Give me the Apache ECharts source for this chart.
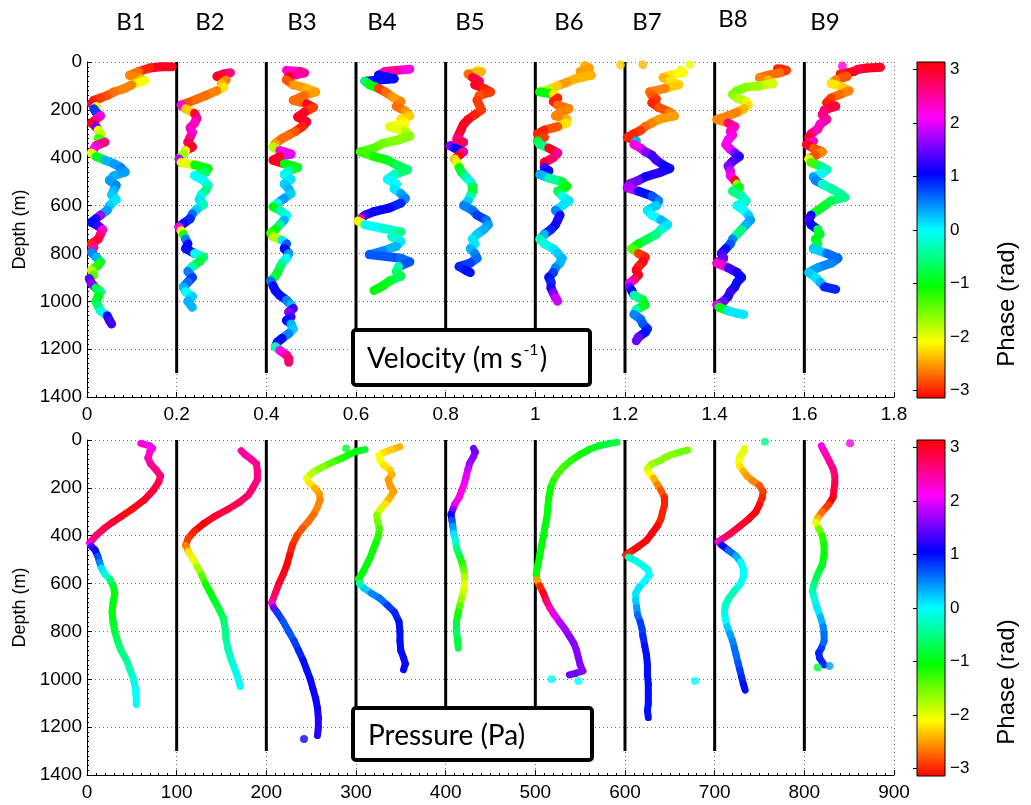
<!DOCTYPE html>
<html><head><meta charset="utf-8">
<script src="https://cdn.jsdelivr.net/npm/echarts@6/dist/echarts.min.js"></script>
<style>html,body{margin:0;padding:0;background:#fff}#c{width:1031px;height:805px}</style>
</head><body><div id="c"></div><script>
// ---------- DATA ----------
// each profile point: [depth (m), value, phase (rad)]
const profileNames = ['B1','B2','B3','B4','B5','B6','B7','B8','B9'];
const velOffsets = [0,0.2,0.4,0.6,0.8,1.0,1.2,1.4,1.6];
const presOffsets = [0,100,200,300,400,500,600,700,800];
const separatorDepth = 1300;

const velB1 = [[20,0.19,3.0],[20,0.165,3.0],[25,0.14,-3.0],[40,0.115,-2.7],[55,0.095,-2.6],[70,0.12,-2.4],[78,0.128,-2.1],[95,0.10,-2.6],[110,0.085,-2.6],[125,0.06,-2.7],[140,0.045,-2.8],[150,0.03,-2.9],[160,0.015,-3.0],[175,0.01,2.9],[185,0.02,-2.0],[195,0.015,0.8],[210,0.02,0.8],[225,0.03,2.2],[240,0.02,2.5],[255,0.01,3.0],[270,0.02,1.5],[285,0.025,-2.0],[300,0.03,-1.8],[320,0.025,-1.3],[335,0.04,2.6],[350,0.02,2.3],[365,0.015,2.1],[380,0.01,-2.0],[395,0.02,-0.9],[410,0.04,0.3],[425,0.06,0.4],[440,0.075,0.5],[460,0.085,0.4],[475,0.06,0.3],[495,0.05,0.4],[515,0.065,0.5],[535,0.06,0.3],[555,0.055,0.2],[575,0.065,0.1],[600,0.05,0.2],[620,0.045,0.4],[640,0.03,1.7],[655,0.02,1.2],[670,0.01,1.0],[685,0.025,1.3],[700,0.035,2.2],[720,0.03,2.6],[740,0.025,2.9],[760,0.01,-3.0],[775,0.015,2.4],[795,0.01,0.5],[815,0.02,0.3],[835,0.03,-0.9],[850,0.025,-1.2],[870,0.01,-1.8],[890,0.015,-1.4],[905,0.005,1.4],[925,0.01,1.6],[945,0.02,-0.8],[960,0.03,-0.5],[980,0.025,-1.0],[1000,0.02,-0.8],[1020,0.025,-0.6],[1040,0.03,-0.1],[1060,0.045,1.1],[1080,0.05,1.3],[1095,0.055,1.2]];
const velB2 = [[45,0.12,2.6],[50,0.105,2.8],[60,0.09,3.0],[75,0.11,-2.6],[90,0.1,-2.4],[105,0.105,-2.2],[120,0.09,-2.6],[140,0.065,-2.7],[155,0.045,-2.7],[170,0.025,-2.8],[180,0.01,2.2],[195,0.02,-2.3],[215,0.04,2.9],[235,0.045,2.6],[255,0.04,2.3],[275,0.03,2.4],[295,0.035,2.2],[315,0.03,2.5],[335,0.025,2.8],[355,0.035,3.0],[370,0.02,-2.0],[385,0.015,-1.7],[405,0.005,1.8],[420,0.01,-2.0],[430,0.04,-1.0],[445,0.07,-1.0],[460,0.065,-0.6],[475,0.04,0.0],[495,0.06,0.0],[515,0.07,-0.3],[535,0.065,-0.5],[555,0.055,-0.2],[575,0.05,0.1],[595,0.06,-0.3],[615,0.045,0.2],[635,0.035,0.6],[655,0.03,0.9],[675,0.015,1.0],[690,0.005,2.2],[705,0.01,-2.0],[720,0.015,-1.2],[740,0.02,0.5],[760,0.025,1.0],[780,0.02,1.0],[800,0.04,0.0],[815,0.06,-0.6],[835,0.05,-0.8],[855,0.035,-0.3],[875,0.025,0.5],[900,0.035,0.8],[920,0.025,0.6],[940,0.015,0.3],[960,0.02,0.0],[980,0.035,0.2],[1000,0.025,0.3],[1025,0.035,0.7]];
const velB3 = [[35,0.045,2.3],[40,0.075,2.6],[45,0.085,2.5],[60,0.05,3.0],[75,0.045,-2.8],[95,0.06,-2.5],[110,0.09,-2.4],[125,0.11,-2.5],[140,0.085,-2.7],[160,0.06,-2.7],[175,0.09,3.0],[190,0.105,-2.9],[210,0.085,3.0],[230,0.07,3.0],[250,0.09,2.9],[270,0.08,-3.0],[290,0.065,-2.8],[305,0.05,-2.7],[320,0.035,-2.7],[340,0.02,-2.5],[355,0.015,-1.8],[370,0.03,2.2],[385,0.055,2.0],[395,0.03,3.0],[410,0.015,3.0],[425,0.04,-1.0],[440,0.07,-0.9],[455,0.05,-0.3],[470,0.04,0.0],[490,0.055,0.1],[510,0.04,0.2],[530,0.05,0.3],[550,0.055,0.2],[570,0.04,0.4],[590,0.025,0.0],[605,0.015,-1.0],[620,0.03,-0.3],[640,0.045,0.0],[660,0.04,0.3],[680,0.03,-0.5],[700,0.02,-1.0],[715,0.01,-1.3],[730,0.015,-1.8],[745,0.035,0.1],[760,0.045,0.7],[780,0.04,1.0],[800,0.05,0.4],[820,0.045,0.0],[840,0.035,-0.4],[860,0.03,-0.6],[880,0.025,-0.9],[895,0.02,-0.8],[915,0.01,0.6],[935,0.015,1.0],[955,0.02,1.1],[975,0.03,1.0],[995,0.045,0.5],[1015,0.055,0.3],[1030,0.06,1.3],[1045,0.05,1.6],[1065,0.055,1.3],[1080,0.045,1.0],[1095,0.055,0.3],[1115,0.06,0.2],[1135,0.05,0.5],[1155,0.035,1.0],[1170,0.025,1.0],[1190,0.02,-0.3],[1205,0.03,2.2],[1225,0.045,2.5],[1240,0.05,2.7],[1255,0.05,3.0]];
const velB4 = [[30,0.12,2.2],[35,0.09,2.5],[40,0.065,2.4],[55,0.05,1.0],[70,0.085,1.0],[80,0.02,-0.6],[95,0.03,-1.0],[110,0.05,-2.9],[125,0.065,-2.7],[145,0.08,-2.5],[165,0.1,-2.6],[185,0.09,-2.7],[205,0.11,-2.5],[225,0.12,-2.3],[240,0.1,-2.2],[255,0.11,-2.1],[270,0.075,-2.0],[290,0.11,-1.8],[310,0.12,-1.6],[325,0.095,-1.6],[340,0.06,-1.5],[360,0.04,-1.4],[375,0.01,-1.3],[395,0.04,-1.1],[410,0.07,-0.9],[430,0.09,-0.7],[450,0.115,-0.6],[470,0.085,-0.2],[490,0.07,0.0],[510,0.09,0.0],[530,0.085,0.1],[550,0.1,0.4],[570,0.11,0.5],[590,0.1,0.9],[610,0.075,1.1],[625,0.04,1.1],[640,0.02,1.3],[655,0.01,2.5],[665,0.005,-2.0],[680,0.02,0.0],[695,0.06,-0.2],[710,0.1,-0.5],[730,0.08,-0.2],[750,0.1,0.1],[770,0.09,0.3],[790,0.06,0.5],[805,0.03,0.7],[820,0.1,0.6],[835,0.12,0.7],[855,0.095,-0.3],[875,0.09,-0.6],[895,0.1,-0.7],[915,0.075,-0.9],[935,0.06,-1.0],[955,0.04,-0.2]];
const velB5 = [[35,0.07,-2.2],[40,0.08,-2.4],[50,0.05,-2.7],[65,0.06,2.9],[80,0.075,2.8],[95,0.065,3.0],[110,0.085,-3.0],[125,0.1,-2.9],[140,0.075,-2.8],[160,0.07,-2.9],[180,0.075,-2.9],[200,0.08,-2.9],[220,0.065,-3.0],[240,0.05,3.0],[260,0.04,3.0],[280,0.035,3.0],[300,0.03,2.9],[320,0.025,2.6],[335,0.04,2.8],[350,0.01,1.6],[360,0.02,1.0],[375,0.04,2.5],[390,0.03,3.0],[405,0.02,-2.3],[420,0.025,-2.0],[440,0.03,-1.0],[460,0.035,-0.8],[480,0.045,-0.3],[500,0.055,0.0],[520,0.06,-0.8],[540,0.06,-0.8],[560,0.055,-0.3],[580,0.05,0.2],[600,0.04,0.5],[620,0.06,0.6],[640,0.07,0.8],[660,0.09,0.6],[680,0.095,0.4],[700,0.085,0.3],[720,0.07,0.2],[740,0.06,0.1],[760,0.065,0.1],[780,0.055,0.3],[800,0.065,0.5],[820,0.07,0.6],[840,0.055,0.8],[855,0.03,0.9],[870,0.045,1.0],[880,0.055,1.2]];
const velB6 = [[15,0.11,-2.4],[25,0.12,-2.5],[40,0.1,-2.5],[55,0.125,-2.4],[70,0.09,-2.4],[85,0.07,-2.5],[100,0.05,-2.3],[115,0.03,-1.8],[125,0.01,-1.0],[135,0.04,-2.2],[150,0.05,-3.0],[165,0.04,-3.0],[180,0.05,-2.7],[195,0.075,-2.6],[210,0.06,-2.6],[225,0.045,-2.6],[240,0.07,-2.4],[255,0.07,-2.2],[270,0.05,-2.8],[285,0.02,-3.0],[300,0.005,-3.0],[315,0.02,-2.9],[330,0.005,-0.9],[345,0.01,-0.5],[360,0.03,3.0],[380,0.05,2.5],[400,0.04,2.7],[420,0.02,3.0],[440,0.02,1.3],[455,0.03,1.0],[470,0.01,0.3],[485,0.03,-0.4],[500,0.06,-0.8],[520,0.07,-1.0],[540,0.05,-0.7],[560,0.06,-0.1],[580,0.075,0.1],[600,0.06,0.1],[620,0.045,0.5],[640,0.055,1.0],[660,0.05,1.2],[680,0.045,1.1],[700,0.035,0.9],[720,0.02,0.3],[740,0.01,-0.3],[760,0.02,-0.1],[780,0.04,0.1],[800,0.05,0.2],[820,0.06,0.3],[840,0.055,0.3],[860,0.045,0.5],[880,0.04,0.8],[900,0.03,1.0],[920,0.035,0.9],[945,0.035,1.2],[965,0.04,1.6],[985,0.045,1.9],[1000,0.05,2.2]];
const velB7 = [[35,0.125,-2.0],[45,0.13,-2.1],[55,0.1,-2.2],[65,0.085,-2.4],[80,0.1,-2.2],[95,0.12,-2.3],[110,0.09,-2.6],[125,0.055,-2.7],[140,0.06,-2.8],[155,0.07,-2.9],[170,0.06,-3.0],[190,0.075,-2.8],[210,0.1,-2.6],[225,0.11,-2.5],[240,0.075,-2.5],[255,0.06,-2.6],[270,0.045,-2.7],[285,0.035,-2.9],[300,0.02,-3.0],[315,0.005,-3.0],[330,0.025,0.3],[345,0.02,2.2],[360,0.035,2.0],[375,0.045,1.6],[390,0.06,1.3],[410,0.07,1.3],[430,0.085,1.1],[445,0.1,1.1],[460,0.08,1.2],[480,0.045,1.1],[495,0.03,1.5],[510,0.01,1.6],[525,0.005,1.8],[540,0.03,1.0],[560,0.06,0.7],[580,0.075,0.5],[600,0.07,0.2],[620,0.05,0.1],[640,0.06,0.0],[660,0.08,0.3],[680,0.095,0.1],[700,0.08,-0.2],[720,0.07,-0.5],[740,0.05,-0.7],[760,0.03,-1.0],[780,0.015,-1.4],[800,0.03,-2.9],[815,0.045,-3.0],[835,0.04,3.0],[855,0.03,-3.0],[870,0.025,3.0],[890,0.03,3.0],[910,0.02,2.6],[925,0.01,2.0],[940,0.01,1.5],[955,0.015,1.0],[975,0.02,-0.4],[995,0.04,-0.8],[1015,0.045,-0.9],[1035,0.025,-0.3],[1055,0.02,0.5],[1075,0.035,0.6],[1095,0.04,0.7],[1115,0.05,0.9],[1130,0.045,1.0],[1150,0.03,1.5],[1165,0.025,1.7]];
const velB8 = [[28,0.14,-3.0],[30,0.15,-3.0],[35,0.16,-2.9],[45,0.145,-2.7],[55,0.12,-2.7],[65,0.1,-2.6],[75,0.12,-2.4],[90,0.13,-1.9],[100,0.1,-1.7],[105,0.07,-1.6],[120,0.05,-1.5],[135,0.04,-1.6],[150,0.05,-1.8],[165,0.07,-2.0],[180,0.075,-2.2],[195,0.065,-2.4],[210,0.05,-2.6],[225,0.03,-2.6],[240,0.005,-2.6],[255,0.03,2.6],[270,0.045,2.4],[290,0.035,2.3],[305,0.04,2.2],[325,0.03,2.1],[345,0.025,2.2],[365,0.035,2.0],[380,0.045,1.5],[395,0.055,1.2],[415,0.04,1.4],[435,0.03,1.6],[455,0.035,1.9],[475,0.035,2.2],[495,0.045,3.0],[510,0.05,-1.6],[525,0.055,-1.0],[540,0.04,-0.5],[560,0.06,-0.3],[580,0.07,-0.2],[600,0.05,0.0],[620,0.065,0.0],[640,0.075,0.2],[660,0.08,0.4],[680,0.07,0.3],[700,0.06,-0.5],[720,0.05,-0.5],[740,0.04,0.5],[760,0.035,0.7],[780,0.025,1.0],[800,0.015,1.3],[820,0.02,1.5],[840,0.005,2.3],[860,0.03,1.3],[880,0.05,1.1],[900,0.06,1.1],[920,0.05,1.0],[940,0.045,1.1],[960,0.035,1.3],[980,0.03,1.2],[1000,0.02,1.5],[1015,0.005,2.0],[1025,0.01,-1.0],[1040,0.03,0.1],[1050,0.05,0.1],[1055,0.065,0.1]];
const velB9 = [[22,0.17,3.0],[25,0.14,3.0],[30,0.12,2.8],[40,0.11,3.0],[50,0.08,-3.0],[60,0.095,-2.8],[75,0.07,-2.6],[90,0.06,-2.2],[105,0.085,-2.3],[120,0.1,-2.6],[135,0.08,-2.7],[150,0.06,-2.9],[170,0.05,-3.0],[185,0.07,2.9],[200,0.045,2.7],[220,0.04,2.6],[240,0.05,2.5],[260,0.035,2.3],[280,0.03,2.4],[300,0.015,2.6],[315,0.01,3.0],[330,0.02,2.3],[345,0.005,3.0],[360,0.02,-2.8],[375,0.04,-2.6],[390,0.025,-2.8],[405,0.01,-2.0],[420,0.015,-1.3],[435,0.035,-0.5],[450,0.05,-0.3],[465,0.04,0.0],[480,0.02,0.4],[495,0.025,0.5],[510,0.04,-0.2],[530,0.06,-0.4],[550,0.08,-0.4],[565,0.09,-0.5],[580,0.06,-0.7],[600,0.045,-0.9],[620,0.03,-0.9],[640,0.015,1.1],[660,0.01,1.3],[680,0.015,1.0],[700,0.03,-0.8],[720,0.035,-0.9],[740,0.025,-1.0],[760,0.03,-0.8],[780,0.02,0.2],[800,0.05,0.6],[820,0.075,0.6],[840,0.06,0.5],[860,0.03,0.4],[880,0.01,0.2],[900,0.025,0.1],[920,0.035,0.3],[940,0.045,0.9],[950,0.07,-2.8]];
// isolated velocity dots: [profile index, depth, value, phase]
const velStrays = [[5,12,0.19,-2.3],[6,11,0.04,-2.4],[6,11,0.145,-2.0],[8,17,0.085,2.3]];

const presB1 = [[14,60,2.2],[25,70,2.2],[35,73,2.2],[50,70,2.3],[75,68,2.4],[100,71,2.5],[125,77,2.6],[150,82,2.7],[175,80,2.8],[210,74,2.9],[250,64,3.0],[290,50,-3.1],[320,38,3.0],[345,28,2.9],[370,19,2.8],[400,10,2.7],[430,3,2.2],[445,5,1.3],[460,9,1.0],[485,12,0.7],[510,14,0.5],[535,16,0.1],[560,20,-0.2],[585,26,-0.6],[610,29,-0.9],[640,31,-1.0],[680,29,-1.0],[720,28,-1.0],[760,29,-0.9],[800,31,-0.8],[840,34,-0.6],[880,38,-0.5],[920,44,-0.4],[960,48,-0.3],[1000,52,-0.1],[1040,54,0.0],[1080,55,0.0],[1105,55,0.0]];
const presB2 = [[45,72,2.5],[60,76,2.5],[80,83,2.5],[100,89,2.6],[130,90,2.6],[165,90,2.6],[200,85,2.7],[230,80,2.7],[260,70,2.8],[290,57,2.9],[320,42,3.0],[350,30,3.1],[380,20,-3.0],[410,13,-2.9],[440,10,-2.6],[465,13,-2.2],[495,18,-2.0],[530,23,-1.7],[565,28,-1.4],[600,32,-1.1],[635,37,-1.0],[670,42,-0.9],[705,47,-0.8],[745,52,-0.6],[785,54,-0.5],[830,55,-0.4],[870,57,-0.3],[910,60,-0.2],[950,64,-0.1],[990,68,0.0],[1030,71,0.0]];
const presB3 = [[40,110,-0.9],[48,100,-1.0],[60,93,-1.1],[75,85,-1.2],[90,75,-1.4],[110,64,-1.6],[135,52,-1.8],[160,45,-2.0],[180,48,-2.2],[200,54,-2.4],[225,59,-2.5],[250,60,-2.6],[280,57,-2.6],[310,53,-2.7],[340,47,-2.7],[370,40,-2.8],[400,34,-2.9],[440,29,-3.0],[480,26,-3.1],[520,23,3.1],[560,19,3.0],[600,14,2.9],[640,10,2.7],[680,6,2.3],[700,8,1.5],[720,12,0.8],[760,19,0.7],[800,25,0.7],[840,31,0.8],[880,36,0.9],[920,41,1.0],[960,45,1.0],[1000,49,1.1],[1040,52,1.1],[1080,55,1.1],[1120,57,1.1],[1160,58,1.2],[1200,58,1.2],[1235,57,1.2]];
const presB4 = [[28,49,-2.4],[40,40,-2.3],[52,31,-2.2],[65,26,-2.1],[85,27,-2.1],[105,31,-2.2],[125,38,-2.3],[145,40,-2.4],[165,36,-2.5],[190,38,-2.5],[215,42,-2.5],[240,38,-2.4],[265,33,-2.2],[290,27,-1.9],[315,23,-1.6],[340,24,-1.5],[370,26,-1.3],[400,25,-1.2],[430,22,-1.1],[460,19,-1.1],[490,16,-1.0],[520,12,-1.0],[550,8,-1.0],[580,3,-1.0],[600,4,-0.3],[620,9,0.2],[640,17,0.5],[660,26,0.6],[690,35,0.8],[720,43,0.9],[760,48,1.0],[800,49,1.0],[840,49,1.0],[880,50,1.0],[910,53,1.1],[935,55,1.1],[960,53,1.1]];
const presB5 = [[35,31,1.5],[50,33,1.5],[70,31,1.6],[95,27,1.7],[120,25,1.9],[150,23,2.0],[180,21,2.1],[210,18,2.2],[240,15,2.2],[270,10,2.0],[290,8,1.6],[310,6,1.1],[335,7,0.7],[360,8,0.4],[390,9,0.1],[420,11,-0.2],[450,12,-0.5],[480,15,-0.8],[510,18,-1.2],[540,20,-1.5],[570,21,-1.8],[600,21,-2.0],[630,20,-1.9],[660,18,-1.7],[690,16,-1.4],[720,14,-1.1],[760,12,-0.8],[800,12,-0.6],[830,13,-0.8],[870,14,-1.0]];
const presB6 = [[10,91,-0.8],[15,82,-0.8],[25,70,-0.9],[40,60,-1.0],[60,50,-1.1],[85,40,-1.2],[110,32,-1.3],[140,25,-1.3],[170,20,-1.2],[200,17,-1.1],[240,15,-1.1],[280,14,-1.0],[320,13,-1.0],[360,11,-1.0],[400,9,-1.0],[440,7,-1.0],[480,5,-1.0],[520,3,-1.0],[560,1,-1.1],[585,2,-2.5],[610,5,-3.0],[640,9,3.0],[670,12,2.7],[700,16,2.4],[730,21,2.0],[760,27,1.8],[790,33,1.7],[820,38,1.6],[850,43,1.6],[880,46,1.6],[910,48,1.6],[940,50,1.6],[965,53,1.6],[975,45,1.5],[982,38,1.4]];
const presB7 = [[42,70,-1.5],[50,62,-1.5],[60,53,-1.6],[72,45,-1.6],[85,40,-1.6],[100,30,-1.7],[120,25,-1.9],[140,27,-2.1],[160,32,-2.4],[185,36,-2.6],[210,40,-2.8],[240,44,-3.0],[270,44,-3.0],[300,42,-3.0],[330,40,-3.0],[360,36,3.1],[390,30,3.1],[420,24,3.1],[445,15,-3.1],[470,5,-3.0],[480,1,-3.0],[490,4,-0.2],[505,12,-0.1],[525,20,-0.1],[545,26,0.0],[565,27,0.0],[590,22,0.0],[615,16,0.1],[640,12,0.1],[670,12,0.2],[700,13,0.4],[730,14,0.6],[760,17,0.8],[790,19,0.8],[820,20,0.9],[860,22,1.0],[900,24,1.0],[940,25,1.0],[980,25,1.0],[1020,26,1.0],[1060,26,1.0],[1100,26,1.0],[1130,25,1.0],[1160,26,1.0]];
const presB8 = [[35,33,-2.0],[50,32,-2.0],[70,28,-2.0],[90,27,-2.1],[110,28,-2.2],[130,32,-2.4],[150,36,-2.5],[170,42,-2.6],[190,50,-2.8],[215,54,-2.9],[240,53,-3.0],[270,50,-3.1],[300,46,3.1],[330,38,3.0],[360,28,2.9],[390,18,2.8],[415,8,2.6],[425,4,2.3],[440,8,1.0],[460,15,0.6],[485,24,0.3],[510,29,0.0],[540,32,0.0],[570,32,0.0],[600,29,-0.1],[630,22,-0.3],[660,16,-0.3],[690,12,-0.2],[720,11,-0.1],[750,12,0.0],[780,14,0.2],[810,17,0.4],[840,20,0.5],[870,22,0.6],[900,24,0.6],[930,26,0.7],[960,28,0.8],[990,30,0.9],[1020,32,1.0],[1045,34,1.0]];
const presB9 = [[24,19,2.2],[40,21,2.3],[60,24,2.4],[90,28,2.5],[120,32,2.6],[150,34,2.7],[180,34,2.8],[210,33,2.9],[240,32,3.1],[270,27,-2.9],[300,20,-2.7],[325,15,-2.4],[345,13,-2.0],[370,16,-1.5],[400,20,-1.2],[440,22,-1.1],[480,22,-1.0],[520,20,-0.9],[560,15,-0.7],[600,11,-0.5],[630,9,-0.3],[660,11,-0.1],[700,14,0.1],[740,18,0.3],[780,21,0.5],[810,22,0.6],[840,22,0.6],[870,19,0.8],[890,16,0.9],[910,17,0.9],[940,22,0.8]];
// isolated pressure dots: [profile index, depth, value, phase]
const presStrays = [[2,35,89,-0.9],[2,1250,42,1.1],[5,1000,18,-0.1],[5,1007,48,0.0],[6,1007,78,0.0],[7,7,56,-0.5],[8,14,51,2.2],[8,951,15,-0.8],[8,944,28,0.4]];

const velProfiles = [velB1,velB2,velB3,velB4,velB5,velB6,velB7,velB8,velB9];
const presProfiles = [presB1,presB2,presB3,presB4,presB5,presB6,presB7,presB8,presB9];
const phaseTicks = [-3,-2,-1,0,1,2,3];

// ---------- BUILD ----------
function segData(profiles, offsets) {
  const out = [];
  profiles.forEach((prof, k) => {
    prof.forEach((pt, i) => {
      const nx = prof[i + 1] || pt;
      out.push([offsets[k] + pt[1], pt[0], pt[2], offsets[k] + nx[1], nx[0]]);
    });
  });
  return out;
}
function strayData(strays, offsets) {
  return strays.map(s => [offsets[s[0]] + s[2], s[1], s[3]]);
}
function segRenderer(width) {
  return function (params, api) {
    const a = api.coord([api.value(0), api.value(1)]);
    const b = api.coord([api.value(3), api.value(4)]);
    return { type: 'line', shape: { x1: a[0], y1: a[1], x2: b[0], y2: b[1] },
      style: { stroke: api.visual('color'), lineWidth: width, lineCap: 'round' } };
  };
}
function sepRenderer(params, api) {
  const a = api.coord([api.value(0), 0]);
  const b = api.coord([api.value(0), separatorDepth]);
  return { type: 'line', shape: { x1: a[0], y1: a[1], x2: b[0], y2: b[1] },
    style: { stroke: '#000', lineWidth: 3 } };
}
const hsvStops = ['#ff0000','#ffff00','#00ff00','#00ffff','#0000ff','#ff00ff','#ff0000'];
function cbRenderer(params, api) {
  const p0 = api.coord([0, -Math.PI]);
  const p1 = api.coord([1, Math.PI]);
  return { type: 'rect', shape: { x: p0[0], y: p1[1], width: p1[0] - p0[0], height: p0[1] - p1[1] },
    style: { fill: new echarts.graphic.LinearGradient(0, 1, 0, 0,
      hsvStops.map((c, i) => ({ offset: i / (hsvStops.length - 1), color: c }))),
      stroke: '#000', lineWidth: 1 } };
}

const FONT = '"Liberation Sans", Arial, Helvetica, sans-serif';
const dotted = { show: true, lineStyle: { color: '#777', type: [1, 3], width: 1 } };
const plainNum = v => String(Math.round(v * 1000) / 1000);
function mainX(idx, max, interval) {
  return { gridIndex: idx, type: 'value', min: 0, max: max, interval: interval,
    axisLine: { show: true, onZero: false, lineStyle: { color: '#000', width: 1 } },
    axisTick: { show: true, inside: true, length: 5, lineStyle: { color: '#000' } },
    minorTick: { show: true, splitNumber: 10, length: 2, lineStyle: { color: '#000' } },
    axisLabel: { color: '#000', fontFamily: FONT, fontSize: 19, margin: 8, formatter: plainNum },
    splitLine: dotted };
}
function mainY(idx) {
  return { gridIndex: idx, type: 'value', inverse: true, min: 0, max: 1400, interval: 200,
    name: 'Depth (m)', nameLocation: 'middle', nameRotate: 90, nameGap: 52,
    nameTextStyle: { color: '#000', fontFamily: FONT, fontSize: 18 },
    axisLine: { show: true, onZero: false, lineStyle: { color: '#000', width: 1 } },
    axisTick: { show: true, inside: true, length: 5, lineStyle: { color: '#000' } },
    minorTick: { show: true, splitNumber: 10, length: 2, lineStyle: { color: '#000' } },
    axisLabel: { color: '#000', fontFamily: FONT, fontSize: 19, margin: 5, formatter: plainNum },
    splitLine: dotted };
}
function cbX(idx) { return { gridIndex: idx, type: 'value', min: 0, max: 1, show: false }; }
function cbY(idx) {
  return { gridIndex: idx, type: 'value', min: -Math.PI, max: Math.PI, position: 'right',
    axisLine: { show: false },
    axisTick: { show: true, inside: true, length: 4, customValues: phaseTicks, lineStyle: { color: '#000' } },
    axisLabel: { show: true, customValues: phaseTicks, color: '#000', fontFamily: FONT, fontSize: 17, margin: 5,
      formatter: v => (v < 0 ? '\u2212' + Math.abs(Math.round(v)) : String(Math.round(v))) },
    splitLine: { show: false } };
}

const graphics = [];
const labelX = [131, 210, 302, 382, 470, 569, 647, 733, 825];
profileNames.forEach((n, i) => {
  graphics.push({ type: 'text', x: labelX[i], y: i === 7 ? 19 : 22, z: 100,
    style: { text: n, fontFamily: 'Lato, "Open Sans", sans-serif', fontSize: 24, fill: '#000',
      align: 'center', verticalAlign: 'middle', textAlign: 'center', textVerticalAlign: 'middle' } });
});
[304, 682].forEach(cy => {
  graphics.push({ type: 'text', x: 1007, y: cy, rotation: Math.PI / 2, z: 100,
    style: { text: 'Phase (rad)', fontFamily: FONT, fontSize: 24, fill: '#000',
      align: 'center', verticalAlign: 'middle', textAlign: 'center', textVerticalAlign: 'middle' } });
});
graphics.push({ type: 'rect', z: 100, shape: { x: 353, y: 330, width: 237, height: 55, r: 3 },
  style: { fill: '#fff', stroke: '#000', lineWidth: 4 } });
graphics.push({ type: 'text', z: 101, x: 367, y: 359,
  style: { text: '{a|Velocity (m s}{b|-1}{a|)}', fill: '#000', align: 'left', verticalAlign: 'middle',
    textAlign: 'left', textVerticalAlign: 'middle',
    rich: { a: { fontFamily: 'Lato, sans-serif', fontSize: 28, lineHeight: 34 },
            b: { fontFamily: 'Lato, sans-serif', fontSize: 16, verticalAlign: 'top', lineHeight: 34, padding: [0, 1, 12, 1] } } } });
graphics.push({ type: 'rect', z: 100, shape: { x: 353, y: 708, width: 239, height: 52, r: 3 },
  style: { fill: '#fff', stroke: '#000', lineWidth: 4 } });
graphics.push({ type: 'text', z: 101, x: 368, y: 736,
  style: { text: 'Pressure (Pa)', fontFamily: 'Lato, sans-serif', fontSize: 28, fill: '#000',
    align: 'left', verticalAlign: 'middle', textAlign: 'left', textVerticalAlign: 'middle' } });

const option = {
  backgroundColor: '#fff',
  animation: false,
  grid: [
    { left: 87, top: 62, width: 807, height: 335 },
    { left: 87, top: 440, width: 807, height: 335 },
    { left: 917, top: 62, width: 28, height: 336 },
    { left: 917, top: 440, width: 28, height: 336 }
  ],
  xAxis: [mainX(0, 1.8, 0.2), mainX(1, 900, 100), cbX(2), cbX(3)],
  yAxis: [mainY(0), mainY(1), cbY(2), cbY(3)],
  visualMap: [{ type: 'continuous', show: false, min: -Math.PI, max: Math.PI, dimension: 2,
    seriesIndex: [1, 2, 4, 5], inRange: { color: hsvStops } }],
  series: [
    { type: 'custom', xAxisIndex: 0, yAxisIndex: 0, z: 2, renderItem: sepRenderer,
      data: velOffsets.slice(1).map(v => [v]), encode: { x: 0 } },
    { type: 'custom', xAxisIndex: 0, yAxisIndex: 0, z: 3, renderItem: segRenderer(9),
      data: segData(velProfiles, velOffsets), encode: { x: [0, 3], y: [1, 4] } },
    { type: 'scatter', xAxisIndex: 0, yAxisIndex: 0, z: 3, symbolSize: 9,
      data: strayData(velStrays, velOffsets) },
    { type: 'custom', xAxisIndex: 1, yAxisIndex: 1, z: 2, renderItem: sepRenderer,
      data: presOffsets.slice(1).map(v => [v]), encode: { x: 0 } },
    { type: 'custom', xAxisIndex: 1, yAxisIndex: 1, z: 3, renderItem: segRenderer(7),
      data: segData(presProfiles, presOffsets), encode: { x: [0, 3], y: [1, 4] } },
    { type: 'scatter', xAxisIndex: 1, yAxisIndex: 1, z: 3, symbolSize: 8,
      data: strayData(presStrays, presOffsets) },
    { type: 'custom', xAxisIndex: 2, yAxisIndex: 2, renderItem: cbRenderer, data: [[0]], encode: { x: 0 } },
    { type: 'custom', xAxisIndex: 3, yAxisIndex: 3, renderItem: cbRenderer, data: [[0]], encode: { x: 0 } }
  ],
  graphic: graphics
};
const chart = echarts.init(document.getElementById('c'));
chart.setOption(option);
</script></body></html>
